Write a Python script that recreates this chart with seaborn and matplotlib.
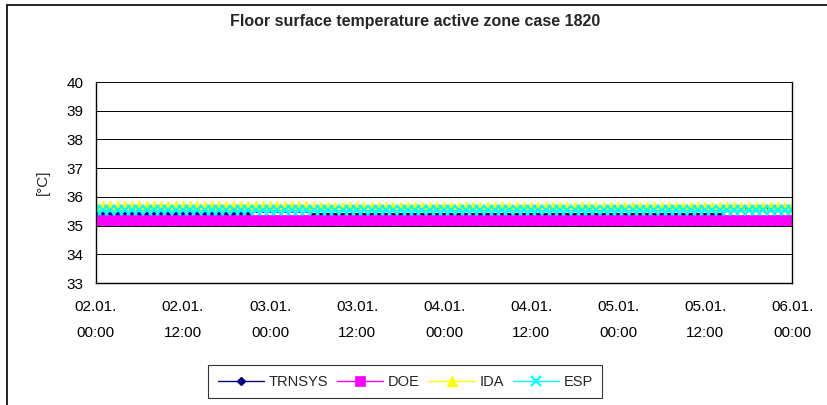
import matplotlib
matplotlib.use("Agg")
import matplotlib.pyplot as plt
import seaborn as sns
import pandas as pd
from matplotlib.lines import Line2D

# hourly samples, 02.01. 00:00 .. 06.01. 00:00
hours = list(range(97))

trnsys = [
    35.43, 35.43, 35.43, 35.43, 35.43, 35.43, 35.43, 35.43, 35.43, 35.43, 35.43, 35.43,
    35.43, 35.43, 35.43, 35.43, 35.43, 35.43, 35.43, 35.43, 35.43, 35.43, 35.62, 35.62,
    35.62, 35.62, 35.62, 35.62, 35.62, 35.62, 35.43, 35.43, 35.43, 35.43, 35.43, 35.43,
    35.43, 35.43, 35.43, 35.43, 35.43, 35.43, 35.43, 35.43, 35.43, 35.43, 35.43, 35.43,
    35.43, 35.43, 35.43, 35.43, 35.43, 35.43, 35.43, 35.43, 35.43, 35.43, 35.43, 35.43,
    35.43, 35.43, 35.43, 35.43, 35.43, 35.43, 35.43, 35.43, 35.43, 35.43, 35.43, 35.43,
    35.43, 35.43, 35.43, 35.43, 35.43, 35.43, 35.43, 35.43, 35.43, 35.43, 35.43, 35.43,
    35.43, 35.43, 35.43, 35.60, 35.60, 35.60, 35.60, 35.60, 35.60, 35.60, 35.60, 35.60,
    35.60,
]
doe = [
    35.20, 35.20, 35.20, 35.20, 35.20, 35.20, 35.20, 35.20, 35.20, 35.20, 35.20, 35.20,
    35.20, 35.20, 35.20, 35.20, 35.20, 35.20, 35.20, 35.20, 35.20, 35.20, 35.20, 35.20,
    35.20, 35.20, 35.20, 35.20, 35.20, 35.20, 35.20, 35.20, 35.20, 35.20, 35.20, 35.20,
    35.20, 35.20, 35.20, 35.20, 35.20, 35.20, 35.20, 35.20, 35.20, 35.20, 35.20, 35.20,
    35.20, 35.20, 35.20, 35.20, 35.20, 35.20, 35.20, 35.20, 35.20, 35.20, 35.20, 35.20,
    35.20, 35.20, 35.20, 35.20, 35.20, 35.20, 35.20, 35.20, 35.20, 35.20, 35.20, 35.20,
    35.20, 35.20, 35.20, 35.20, 35.20, 35.20, 35.20, 35.20, 35.20, 35.20, 35.20, 35.20,
    35.20, 35.20, 35.20, 35.20, 35.20, 35.20, 35.20, 35.20, 35.20, 35.20, 35.20, 35.20,
    35.20,
]
ida = [
    35.69, 35.69, 35.69, 35.69, 35.69, 35.69, 35.69, 35.69, 35.69, 35.69, 35.69, 35.69,
    35.69, 35.69, 35.69, 35.69, 35.69, 35.69, 35.69, 35.69, 35.69, 35.69, 35.69, 35.69,
    35.69, 35.69, 35.69, 35.69, 35.69, 35.69, 35.66, 35.66, 35.66, 35.66, 35.66, 35.66,
    35.66, 35.66, 35.66, 35.66, 35.66, 35.66, 35.66, 35.66, 35.66, 35.66, 35.66, 35.66,
    35.66, 35.66, 35.66, 35.66, 35.66, 35.66, 35.66, 35.66, 35.66, 35.66, 35.66, 35.66,
    35.66, 35.66, 35.66, 35.66, 35.66, 35.66, 35.66, 35.66, 35.66, 35.66, 35.66, 35.66,
    35.66, 35.66, 35.66, 35.66, 35.66, 35.66, 35.66, 35.66, 35.66, 35.66, 35.66, 35.66,
    35.66, 35.66, 35.66, 35.66, 35.66, 35.66, 35.66, 35.66, 35.66, 35.66, 35.66, 35.66,
    35.66,
]
esp = [
    35.56, 35.56, 35.56, 35.56, 35.56, 35.56, 35.56, 35.56, 35.56, 35.56, 35.56, 35.56,
    35.56, 35.56, 35.56, 35.56, 35.56, 35.56, 35.56, 35.56, 35.56, 35.56, 35.56, 35.56,
    35.56, 35.56, 35.56, 35.56, 35.56, 35.56, 35.56, 35.56, 35.56, 35.56, 35.56, 35.56,
    35.56, 35.56, 35.56, 35.56, 35.56, 35.56, 35.56, 35.56, 35.56, 35.56, 35.56, 35.56,
    35.56, 35.56, 35.56, 35.56, 35.56, 35.56, 35.56, 35.56, 35.56, 35.56, 35.56, 35.56,
    35.56, 35.56, 35.56, 35.56, 35.56, 35.56, 35.56, 35.56, 35.56, 35.56, 35.56, 35.56,
    35.56, 35.56, 35.56, 35.56, 35.56, 35.56, 35.56, 35.56, 35.56, 35.56, 35.56, 35.56,
    35.56, 35.56, 35.56, 35.56, 35.56, 35.56, 35.56, 35.56, 35.56, 35.56, 35.56, 35.56,
    35.56,
]

tick_hours = [0, 12, 24, 36, 48, 60, 72, 84, 96]
tick_labels = ["02.01.\n00:00", "02.01.\n12:00", "03.01.\n00:00", "03.01.\n12:00",
               "04.01.\n00:00", "04.01.\n12:00", "05.01.\n00:00", "05.01.\n12:00",
               "06.01.\n00:00"]

series = [
    ("TRNSYS", trnsys, "#000080", "D", 4.5, 1.0),
    ("DOE", doe, "#FF00FF", "s", 6.5, 0.5),
    ("IDA", ida, "#FFFF00", "^", 7, 0.8),
    ("ESP", esp, "#00FFFF", "x", 7.5, 1.6),
]

sns.set_style("white")
plt.rcParams['font.family'] = ['Liberation Sans', 'DejaVu Sans']

fig = plt.figure(figsize=(8.27, 4.05), dpi=100)
ax = fig.add_axes([0.116, 0.301, 0.842, 0.4965])

for name, vals, col, mk, ms, mew in series:
    df = pd.DataFrame({"hour": hours, "temp": vals})
    sns.lineplot(data=df, x="hour", y="temp", ax=ax, color=col, marker=mk,
                 markersize=ms, markeredgecolor=col, markerfacecolor=col,
                 markeredgewidth=mew, linewidth=1.0, label=name)

ax.set_xlim(0, 96)
ax.set_ylim(33, 40)
ax.set_yticks(range(33, 41))
ax.set_xticks(tick_hours)
ax.set_xticklabels(tick_labels, linespacing=2.1)
ax.tick_params(axis="both", direction="out", length=4, width=0.8, color="black",
               labelsize=11, labelcolor="black")
ax.tick_params(axis="y", pad=5)
ax.tick_params(axis="x", pad=8)
ax.yaxis.grid(True, color="black", linewidth=0.7)
ax.xaxis.grid(False)
for side in ["left", "bottom", "right"]:
    ax.spines[side].set_visible(True)
    ax.spines[side].set_color("black")
    ax.spines[side].set_linewidth(1.0)
ax.spines["top"].set_visible(False)
ax.set_xlabel("")
ax.set_ylabel("[°C]", fontsize=11, labelpad=12)

fig.text(0.502, 0.946, "Floor surface temperature active zone case 1820",
         ha="center", va="center", fontsize=11.5, fontweight="bold")

leg = ax.legend(loc="center", bbox_to_anchor=(0.49, 0.057),
                bbox_transform=fig.transFigure, ncol=4, frameon=True,
                fancybox=False, edgecolor="black", fontsize=10.5,
                handlelength=3.2, columnspacing=0.6, handletextpad=0.3,
                borderpad=0.65)
leg.get_frame().set_linewidth(0.8)

# outer chart frame
fig.add_artist(Line2D([7 / 827, 7 / 827], [0, 1 - 5 / 405], color="black", linewidth=1.2))
fig.add_artist(Line2D([7 / 827, 1], [1 - 5 / 405, 1 - 5 / 405], color="black", linewidth=1.2))

fig.savefig("out.png", dpi=100)
